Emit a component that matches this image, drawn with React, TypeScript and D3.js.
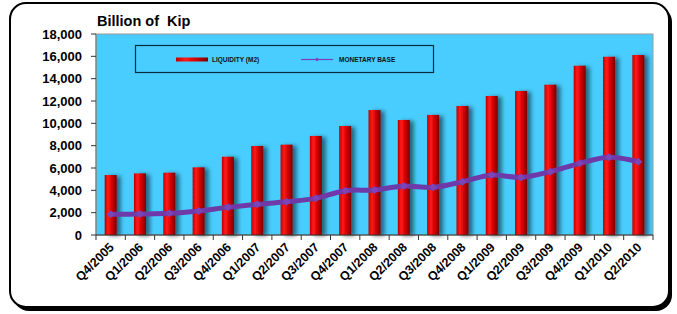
import * as React from "react";
import * as d3 from "d3";

const quarters = [
  "Q4/2005", "Q1/2006", "Q2/2006", "Q3/2006", "Q4/2006", "Q1/2007", "Q2/2007",
  "Q3/2007", "Q4/2007", "Q1/2008", "Q2/2008", "Q3/2008", "Q4/2008", "Q1/2009",
  "Q2/2009", "Q3/2009", "Q4/2009", "Q1/2010", "Q2/2010",
];
const liquidity = [
  5370, 5520, 5580, 6060, 7010, 7970, 8090, 8870, 9760, 11190, 10300, 10750,
  11550, 12450, 12900, 13460, 15160, 15960, 16120,
];
const monetaryBase = [
  1850, 1880, 1940, 2150, 2480, 2750, 2980, 3280, 3970, 4030, 4390, 4270,
  4770, 5370, 5160, 5670, 6420, 6960, 6560,
];
const yTicks = [0, 2000, 4000, 6000, 8000, 10000, 12000, 14000, 16000, 18000];

const App = () => {
  const width = 677;
  const height = 314;
  const left = 96;
  const right = 653;
  const top = 34;
  const bottom = 235;

  const x = d3.scaleBand().domain(quarters).range([left, right]);
  const y = d3.scaleLinear().domain([0, 18000]).range([bottom, top]);
  const fmt = d3.format(",");

  const line = d3
    .line<number>()
    .x((d, i) => x(quarters[i])! + x.bandwidth() / 2)
    .y(d => y(d))
    .curve(d3.curveCatmullRom.alpha(0.5));

  const barW = 12;
  const font = "Liberation Sans, Arial, sans-serif";

  return (
    <svg width={width} height={height} style={{ position: "absolute", left: 0, top: 0 }}>
      <defs>
        <linearGradient id="barGrad" x1="0" x2="1" y1="0" y2="0">
          <stop offset="0%" stopColor="#c00000" />
          <stop offset="30%" stopColor="#ff1a1a" />
          <stop offset="60%" stopColor="#d40000" />
          <stop offset="100%" stopColor="#7a0000" />
        </linearGradient>
        <filter id="barShadow" x="-50%" y="-10%" width="200%" height="120%">
          <feGaussianBlur in="SourceAlpha" stdDeviation="2" />
          <feOffset dx="4" dy="1" result="b" />
          <feComponentTransfer>
            <feFuncA type="linear" slope="0.5" />
          </feComponentTransfer>
          <feMerge>
            <feMergeNode />
            <feMergeNode in="SourceGraphic" />
          </feMerge>
        </filter>
      </defs>

      {/* outer frame with shadow */}
      <rect x={13} y={6} width={659} height={305} rx={16} fill="#000" />
      <rect x={10} y={3} width={659} height={304} rx={16} fill="#fff" stroke="#000" strokeWidth={2} />

      <text x={97} y={26} fontFamily={font} fontWeight="bold" fontSize={14.5} style={{ whiteSpace: "pre" }}>
        {"Billion of  Kip"}
      </text>

      {/* plot area */}
      <rect x={left} y={top} width={right - left} height={bottom - top} fill="#48cdfe" stroke="#9a9a9a" strokeWidth={1} />

      {/* legend */}
      <rect x={135.5} y={45.5} width={298} height={27} fill="none" stroke="#0b2a3a" strokeWidth={1.2} />
      <rect x={176} y={57.5} width={32} height={4} fill="url(#barGrad)" />
      <text x={212} y={62} fontFamily={font} fontWeight="bold" fontSize={6.5} fill="#111">
        LIQUIDITY (M2)
      </text>
      <line x1={301} x2={333} y1={59.5} y2={59.5} stroke="#7b3fc0" strokeWidth={1.2} />
      <path d="M317,57.5 L319,59.5 L317,61.5 L315,59.5 Z" fill="#7b3fc0" />
      <text x={339} y={62} fontFamily={font} fontWeight="bold" fontSize={6.5} fill="#111">
        MONETARY BASE
      </text>

      {/* bars */}
      <g filter="url(#barShadow)">
        {liquidity.map((v, i) => (
          <rect
            key={quarters[i]}
            x={x(quarters[i])! + x.bandwidth() / 2 - barW / 2}
            y={y(v)}
            width={barW}
            height={bottom - y(v)}
            fill="url(#barGrad)"
          />
        ))}
      </g>

      {/* monetary base line */}
      <path d={line(monetaryBase)!} fill="none" stroke="#6f3aa8" strokeWidth={5} strokeLinejoin="round" />
      {monetaryBase.map((v, i) => {
        const cx = x(quarters[i])! + x.bandwidth() / 2;
        const cy = y(v);
        return (
          <path
            key={quarters[i]}
            d={`M${cx},${cy - 4} L${cx + 4},${cy} L${cx},${cy + 4} L${cx - 4},${cy} Z`}
            fill="#7b45b8"
          />
        );
      })}

      {/* y axis */}
      <line x1={left} x2={left} y1={top} y2={bottom} stroke="#777" />
      {yTicks.map(t => (
        <g key={t}>
          <line x1={left - 5} x2={left} y1={y(t)} y2={y(t)} stroke="#333" />
          <text
            x={82}
            y={y(t)}
            dy="0.35em"
            textAnchor="end"
            fontFamily={font}
            fontWeight="bold"
            fontSize={13}
          >
            {fmt(t)}
          </text>
        </g>
      ))}

      {/* x axis */}
      <line x1={left} x2={right} y1={bottom} y2={bottom} stroke="#333" />
      {quarters.map(q => (
        <line key={q} x1={x(q)!} x2={x(q)!} y1={bottom} y2={bottom + 5} stroke="#333" />
      ))}
      <line x1={right} x2={right} y1={bottom} y2={bottom + 5} stroke="#333" />
      {quarters.map(q => {
        const cx = x(q)! + x.bandwidth() / 2 + 4;
        return (
          <text
            key={q}
            transform={`translate(${cx},${bottom + 13}) rotate(-45)`}
            textAnchor="end"
            fontFamily={font}
            fontWeight="bold"
            fontSize={12.5}
          >
            {q}
          </text>
        );
      })}
    </svg>
  );
};

export default App;
